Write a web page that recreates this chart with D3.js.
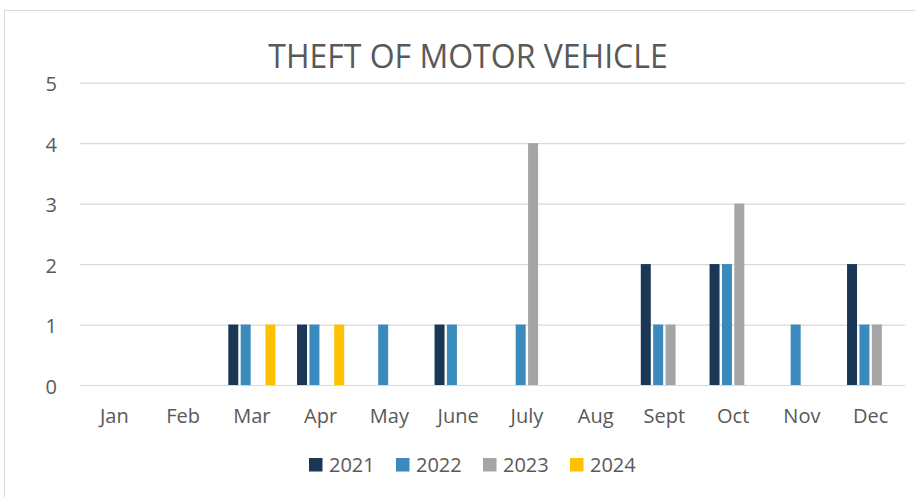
<!DOCTYPE html>
<html>
<head>
<meta charset="utf-8">
<script src="https://cdn.jsdelivr.net/npm/d3@7"></script>
<style>
  body { margin: 0; background: #fff; }
  text { font-family: "Open Sans", sans-serif; fill: #595959; }
</style>
</head>
<body>
<svg id="chart" width="915" height="497"></svg>
<script>
const months = ["Jan", "Feb", "Mar", "Apr", "May", "June", "July", "Aug", "Sept", "Oct", "Nov", "Dec"];
const years = ["2021", "2022", "2023", "2024"];
const colors = ["#1b3756", "#3a8abd", "#a5a5a5", "#ffc000"];

const v2021 = [0, 0, 1, 1, 0, 1, 0, 0, 2, 2, 0, 2];
const v2022 = [0, 0, 1, 1, 1, 1, 1, 0, 1, 2, 1, 1];
const v2023 = [0, 0, 0, 0, 0, 0, 4, 0, 1, 3, 0, 1];
const v2024 = [0, 0, 1, 1, 0, 0, 0, 0, 0, 0, 0, 0];
const yTicks = [0, 1, 2, 3, 4, 5];

const series = [v2021, v2022, v2023, v2024];

const rows = months.map((m, i) => ({
  month: m,
  values: years.map((y, j) => ({ year: y, value: series[j][i], color: colors[j] }))
}));

const svg = d3.select("#chart");

// chart frame
svg.append("rect")
  .attr("x", 4.5)
  .attr("y", 10.5)
  .attr("width", 930)
  .attr("height", 500)
  .attr("fill", "none")
  .attr("stroke", "#d9d9d9");

const plot = { left: 80, right: 905, top: 82.7, bottom: 385 };

const x0 = d3.scaleBand()
  .domain(months)
  .range([plot.left, plot.right])
  .paddingInner(0.244)
  .paddingOuter(0.122);

const x1 = d3.scaleBand()
  .domain(years)
  .range([0, x0.bandwidth()])
  .padding(0.194);

const y = d3.scaleLinear()
  .domain([0, 5])
  .range([plot.bottom, plot.top]);

svg.append("text")
  .attr("x", 468)
  .attr("y", 68)
  .attr("text-anchor", "middle")
  .style("font-size", "32px")
  .text("THEFT OF MOTOR VEHICLE");

const yAxis = svg.append("g")
  .attr("transform", `translate(${plot.left},0)`)
  .call(d3.axisLeft(y)
    .tickValues(yTicks)
    .tickFormat(d3.format("d"))
    .tickSize(-(plot.right - plot.left))
    .tickPadding(23));

yAxis.select(".domain").remove();
yAxis.selectAll("line").attr("stroke", "#d9d9d9").attr("stroke-width", 1.2);
yAxis.selectAll("text")
  .attr("fill", "#595959")
  .attr("dy", "0.4em")
  .style("font-family", "'Open Sans', sans-serif")
  .style("font-size", "20px");

const xAxis = svg.append("g")
  .attr("transform", `translate(0,${plot.bottom})`)
  .call(d3.axisBottom(x0).tickSize(0).tickPadding(23.5));

xAxis.select(".domain").remove();
xAxis.selectAll("text")
  .attr("fill", "#595959")
  .style("font-family", "'Open Sans', sans-serif")
  .style("font-size", "20px");

svg.append("g")
  .selectAll("g")
  .data(rows)
  .join("g")
  .attr("transform", d => `translate(${x0(d.month)},0)`)
  .selectAll("rect")
  .data(d => d.values.filter(v => v.value > 0))
  .join("rect")
  .attr("x", d => x1(d.year))
  .attr("y", d => y(d.value))
  .attr("width", x1.bandwidth())
  .attr("height", d => y(0) - y(d.value))
  .attr("fill", d => d.color);

// legend
const legend = svg.append("g")
  .attr("transform", "translate(309,458)");

const item = legend.selectAll("g")
  .data(years)
  .join("g")
  .attr("transform", (d, i) => `translate(${i * 87},0)`);

item.append("rect")
  .attr("width", 13.5)
  .attr("height", 13.5)
  .attr("fill", (d, i) => colors[i]);

item.append("text")
  .attr("x", 20)
  .attr("y", 14)
  .style("font-size", "20px")
  .text(d => d);
</script>
</body>
</html>
